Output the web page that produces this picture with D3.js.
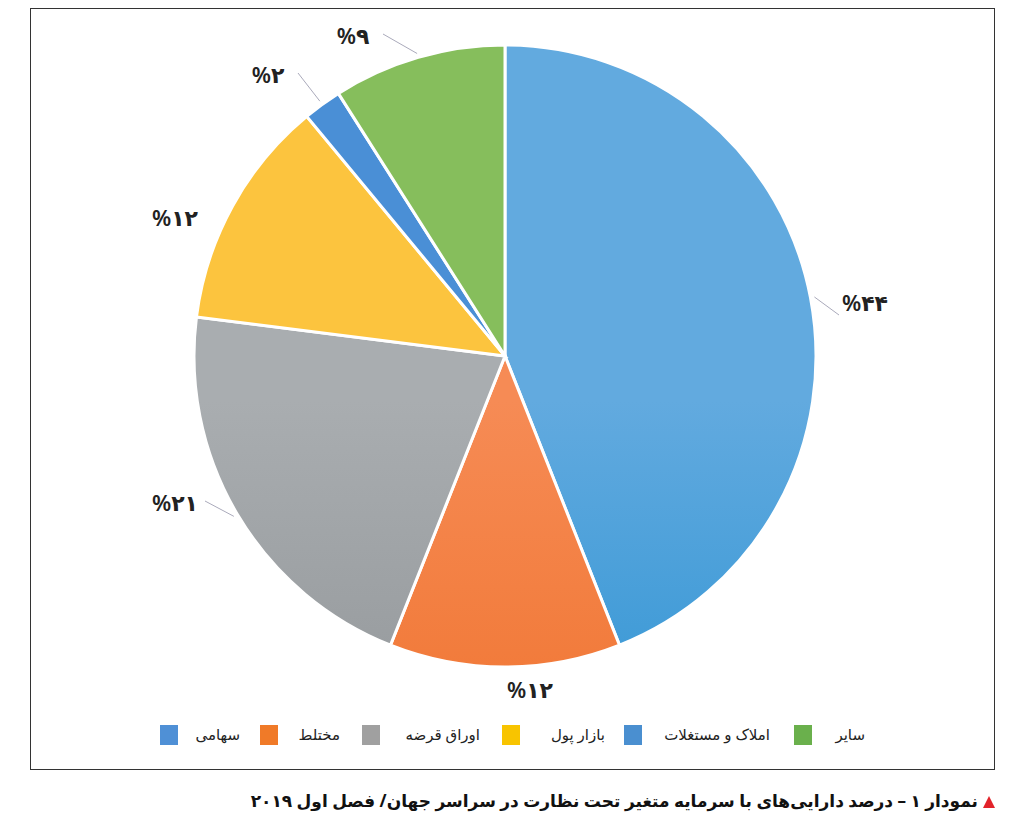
<!DOCTYPE html><html><head><meta charset="utf-8"><script src="https://cdn.jsdelivr.net/npm/d3@7"></script>
<style>body{margin:0;background:#fff}svg{font-family:"Noto Sans","DejaVu Sans",sans-serif}</style></head><body><svg id="c" width="1024" height="837"></svg>
<script>
const categories=["سهامی","مختلط","اوراق قرضه","بازار پول","املاک و مستغلات","سایر"];
const values=[44,12,21,12,2,9];
const labels=["%۴۴","%۱۲","%۲۱","%۱۲","%۲","%۹"];
const colorsTop=["#62aadf","#f68b55","#a9adb0","#fcc43e","#4a8fd6","#86be5c"];
const colorsBot=["#0f86cc","#ec6619","#83878a","#f0aa0c","#1a69bd","#5ea63a"];
const legendColors=["#4f90d6","#f07a28","#a0a0a0","#f8c400","#4a8fd0","#6ab04c"];
const labelPos=[[865,305],[530,692],[175,505],[175,220],[268,77],[353,38]];
const leaders=[1,0,1,0,1,1];
const svg=d3.select("#c");
svg.append("rect").attr("x",30.5).attr("y",8.5).attr("width",964).attr("height",761).attr("fill","none").attr("stroke","#333").attr("stroke-width",1);
const cx=505,cy=356,R=311;
const defs=svg.append("defs");
colorsTop.forEach((c,i)=>{const g=defs.append("linearGradient").attr("id","g"+i).attr("gradientUnits","userSpaceOnUse").attr("x1",0).attr("y1",cy-R).attr("x2",0).attr("y2",cy+R);
g.append("stop").attr("offset",0).attr("stop-color",c);g.append("stop").attr("offset",1).attr("stop-color",colorsBot[i]);});
const pie=d3.pie().sort(null).value(d=>d)(values);
const arc=d3.arc().innerRadius(0).outerRadius(R);
const g=svg.append("g").attr("transform",`translate(${cx},${cy})`);
g.selectAll("path").data(pie).join("path").attr("d",arc).attr("fill",(d,i)=>`url(#g${i})`).attr("stroke","#fff").attr("stroke-width",3);
pie.forEach((d,i)=>{
 const a=(d.startAngle+d.endAngle)/2;
 const [lx,ly]=labelPos[i];
 if(leaders[i]){const ex=lx+(lx>cx?-26:30),ey=ly+(lx>cx?10:-4);
  const sx=cx+Math.sin(a)*(R+4),sy=cy-Math.cos(a)*(R+4);
  svg.append("line").attr("x1",sx).attr("y1",sy).attr("x2",ex).attr("y2",ey).attr("stroke","#aab").attr("stroke-width",1);}
 svg.append("text").attr("x",lx).attr("y",ly).attr("text-anchor","middle").attr("dominant-baseline","middle").attr("direction","ltr").attr("font-size",22).attr("font-weight",600).attr("fill","#222").text(labels[i]);
});
const legX=[168,268,370,510,632,802];
const legTextRight=[240,340,480,605,770,865];
categories.forEach((c,i)=>{
 svg.append("rect").attr("x",legX[i]-8).attr("y",725).attr("width",18).attr("height",20).attr("fill",legendColors[i]);
 svg.append("text").attr("x",legTextRight[i]).attr("y",736).attr("dominant-baseline","middle").attr("text-anchor","end").attr("font-size",15).attr("fill","#222").text(c);
});
svg.append("path").attr("d","M983,808 L995,808 L989,796 Z").attr("fill","#e2232a");
svg.append("text").attr("x",978).attr("y",802).attr("direction","rtl").attr("text-anchor","start").attr("dominant-baseline","middle").attr("font-size",17).attr("font-weight","bold").attr("fill","#111").text("نمودار ۱ – درصد دارایی‌های با سرمایه متغیر تحت نظارت در سراسر جهان/ فصل اول ۲۰۱۹");
</script></body></html>
